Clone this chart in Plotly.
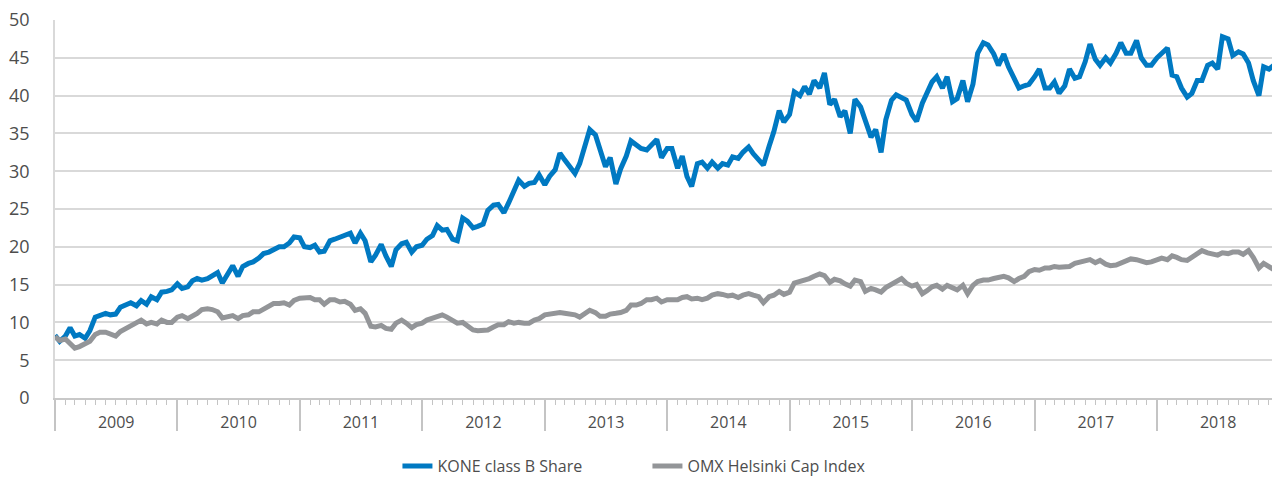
import pandas as pd
import plotly.graph_objects as go

# Half-monthly observation dates (1st and 16th of each month), Jan 2009 - Dec 2018
dates = pd.date_range("2009-01-01", periods=240, freq="SMS")

kone_b = [
    # 2009
    8.3, 7.5, 8.2, 9.3, 8.2, 8.4, 7.9, 8.9, 10.7, 11.0, 11.2, 11.0,
    11.1, 12.0, 12.3, 12.6, 12.2, 12.9, 12.4, 13.4, 13.0, 14.0, 14.1, 14.3,
    # 2010
    15.1, 14.5, 14.7, 15.5, 15.8, 15.6, 15.8, 16.2, 16.6, 15.2, 16.4, 17.5,
    16.1, 17.4, 17.8, 18.0, 18.5, 19.1, 19.3, 19.6, 20.0, 20.0, 20.5, 21.3,
    # 2011
    21.2, 20.0, 19.9, 20.2, 19.3, 19.4, 20.8, 21.0, 21.3, 21.5, 21.8, 20.5,
    21.8, 20.8, 18.0, 18.9, 20.3, 18.8, 17.4, 19.6, 20.4, 20.6, 19.3, 20.0,
    # 2012
    20.2, 21.0, 21.5, 22.8, 22.2, 22.3, 21.0, 20.8, 23.8, 23.4, 22.5, 22.7,
    23.0, 24.8, 25.5, 25.6, 24.5, 25.8, 27.3, 28.8, 28.0, 28.4, 28.5, 29.5,
    # 2013
    28.2, 29.3, 30.2, 32.4, 31.5, 30.6, 29.7, 31.0, 33.5, 35.5, 34.8, 33.0,
    30.6, 31.8, 28.3, 30.3, 32.0, 34.0, 33.4, 33.0, 32.8, 33.5, 34.2, 31.8,
    # 2014
    33.0, 33.0, 30.4, 32.0, 29.3, 28.0, 31.0, 31.2, 30.4, 31.2, 30.4, 31.0,
    30.8, 31.9, 31.7, 32.5, 33.2, 32.3, 31.6, 30.8, 33.3, 35.2, 38.0, 36.5,
    # 2015
    37.5, 40.5, 40.0, 41.2, 40.2, 42.0, 41.0, 43.0, 38.8, 39.5, 37.2, 38.0,
    35.0, 39.5, 38.5, 36.5, 34.5, 35.5, 32.5, 36.8, 39.4, 40.1, 39.8, 39.4,
    # 2016
    37.5, 36.6, 39.0, 40.3, 41.8, 42.5, 41.0, 42.5, 39.2, 39.6, 42.0, 39.2,
    41.5, 45.6, 47.0, 46.7, 45.5, 44.0, 45.5, 43.8, 42.3, 41.0, 41.3, 41.5,
    # 2017
    42.5, 43.5, 41.0, 41.0, 41.8, 40.3, 41.3, 43.5, 42.3, 42.5, 44.5, 46.8,
    44.8, 44.0, 45.0, 44.3, 45.6, 47.0, 45.6, 45.6, 47.3, 45.0, 44.0, 44.0,
    # 2018
    45.0, 45.5, 46.3, 42.7, 42.5, 41.0, 39.8, 40.3, 42.0, 42.0, 44.0, 44.3,
    43.5, 47.8, 47.5, 45.3, 45.8, 45.5, 44.3, 42.0, 40.0, 43.8, 43.5, 44.0,
]

omx_helsinki_cap = [
    # 2009
    8.1, 7.6, 7.8, 7.2, 6.6, 6.8, 7.1, 7.5, 8.4, 8.7, 8.7, 8.4,
    8.2, 8.8, 9.2, 9.5, 9.8, 10.3, 9.8, 10.0, 9.8, 10.3, 10.0, 10.0,
    # 2010
    10.7, 10.9, 10.5, 10.8, 11.2, 11.7, 11.8, 11.7, 11.4, 10.6, 10.7, 10.9,
    10.5, 10.9, 11.0, 11.4, 11.4, 11.8, 12.1, 12.5, 12.5, 12.6, 12.3, 12.9,
    # 2011
    13.2, 13.3, 13.3, 13.0, 13.0, 12.4, 13.0, 13.0, 12.7, 12.8, 12.4, 11.6,
    11.8, 11.2, 9.5, 9.4, 9.6, 9.2, 9.1, 9.9, 10.3, 9.9, 9.3, 9.7,
    # 2012
    9.9, 10.3, 10.5, 10.7, 11.0, 10.7, 10.3, 9.9, 10.0, 9.5, 9.0, 8.9,
    9.0, 9.0, 9.4, 9.7, 9.7, 10.1, 9.9, 10.0, 9.9, 9.9, 10.3, 10.5,
    # 2013
    11.0, 11.1, 11.1, 11.3, 11.2, 11.1, 11.0, 10.7, 11.2, 11.6, 11.3, 10.8,
    10.8, 11.1, 11.2, 11.3, 11.6, 12.3, 12.3, 12.5, 13.0, 13.0, 13.2, 12.7,
    # 2014
    13.0, 13.0, 13.0, 13.3, 13.4, 13.1, 13.2, 13.0, 13.2, 13.6, 13.8, 13.7,
    13.5, 13.6, 13.3, 13.6, 13.8, 13.6, 13.4, 12.6, 13.4, 13.6, 14.1, 13.7,
    # 2015
    14.0, 15.2, 15.4, 15.6, 15.8, 16.1, 16.4, 16.2, 15.3, 15.7, 15.5, 15.1,
    14.8, 15.6, 15.4, 14.1, 14.5, 14.3, 14.0, 14.6, 15.0, 15.5, 15.8, 15.2,
    # 2016
    14.8, 15.0, 13.8, 14.2, 14.7, 14.9, 14.4, 14.9, 14.5, 14.3, 14.9, 13.8,
    14.9, 15.4, 15.6, 15.6, 15.8, 16.0, 16.1, 15.9, 15.4, 15.8, 16.1, 16.7,
    # 2017
    17.0, 16.9, 17.2, 17.2, 17.4, 17.3, 17.3, 17.4, 17.8, 18.0, 18.1, 18.3,
    17.9, 18.2, 17.7, 17.5, 17.6, 17.9, 18.1, 18.4, 18.3, 18.1, 17.9, 18.0,
    # 2018
    18.3, 18.5, 18.3, 18.8, 18.6, 18.3, 18.2, 18.6, 19.0, 19.5, 19.2, 19.1,
    18.9, 19.2, 19.1, 19.3, 19.3, 19.0, 19.5, 18.6, 17.2, 17.8, 17.3, 17.0,
]

series_names = ["KONE class B Share", "OMX Helsinki Cap Index"]
series_colors = ["#0079C2", "#939598"]
y_ticks = [0, 5, 10, 15, 20, 25, 30, 35, 40, 45, 50]
x_range = ["2009-01-01", "2018-12-10"]

FONT = "Open Sans, Lato, sans-serif"
TEXT = "#4d4d4d"

fig = go.Figure()
for name, vals, col in zip(series_names, [kone_b, omx_helsinki_cap], series_colors):
    fig.add_trace(go.Scatter(
        x=dates, y=vals, mode="lines", name=name,
        line=dict(color=col, width=5),
    ))

fig.update_layout(
    width=1272, height=482,
    margin=dict(l=55, r=0, t=20, b=84),
    paper_bgcolor="white", plot_bgcolor="white",
    font=dict(family=FONT, color=TEXT),
    showlegend=True,
    legend=dict(
        orientation="h", xref="container", yref="container",
        x=0.509, xanchor="center", y=0.033, yanchor="middle",
        font=dict(size=16, color=TEXT), entrywidth=205,
    ),
    xaxis=dict(
        type="date", range=x_range, automargin=False,
        tickmode="linear", tick0="2009-01-01", dtick="M12",
        ticklabelmode="period", tickformat="%Y",
        ticks="outside", ticklen=31, tickwidth=1.5, tickcolor="#c4c4c4",
        ticklabelstandoff=-22,
        tickfont=dict(size=16, color=TEXT),
        minor=dict(dtick="M1", ticks="outside", ticklen=5, tickwidth=1,
                   tickcolor="#c4c4c4", showgrid=False),
        showgrid=False, showline=True, linecolor="#c8c8c8", linewidth=1.5,
        zeroline=False,
    ),
    yaxis=dict(
        range=[0, 50], tickmode="array", tickvals=y_ticks, automargin=False,
        showgrid=True, gridcolor="#d9d9d9", gridwidth=1.5,
        showline=True, linecolor="#d9d9d9", linewidth=1.5,
        zeroline=False, ticks="", ticklabelstandoff=20,
        tickfont=dict(size=18, color=TEXT),
    ),
)

fig.write_html(
    "out.html",
    config={"displayModeBar": False},
    post_script="document.body.style.margin='0';document.body.style.overflow='hidden';",
)
